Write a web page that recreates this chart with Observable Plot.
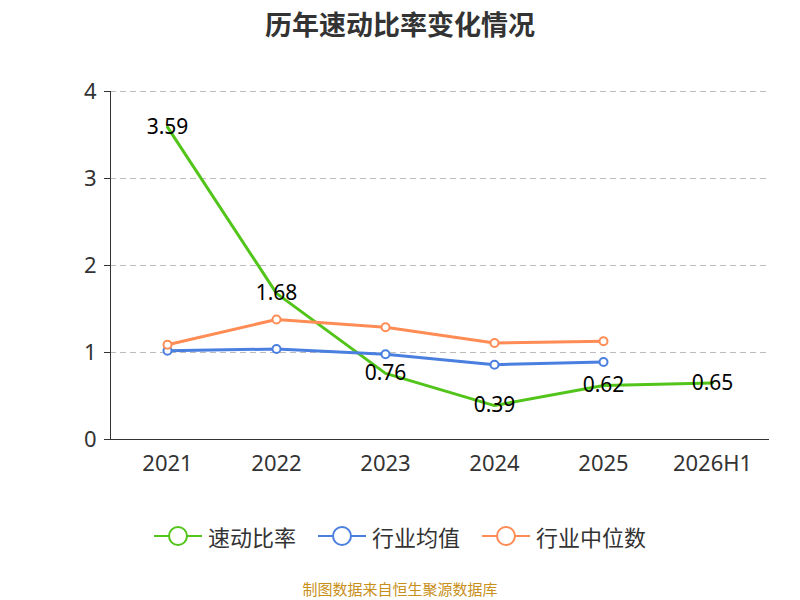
<!DOCTYPE html>
<html><head><meta charset="utf-8">
<script src="https://cdn.jsdelivr.net/npm/d3@7"></script>
<script src="https://cdn.jsdelivr.net/npm/@observablehq/plot@0.6"></script>
<style>
body{margin:0;width:800px;height:600px;position:relative;font-family:"Noto Sans CJK SC","Noto Sans",sans-serif;background:#fff}
#title{position:absolute;top:4px;width:800px;text-align:center;font-size:27px;font-weight:bold;color:#333}
#chart{position:absolute;top:0;left:0}
#legend{position:absolute;top:520px;width:800px;display:flex;justify-content:center;gap:22px;font-size:22px;color:#333}
#legend span{display:flex;align-items:center;gap:6px}
#caption{position:absolute;top:578px;width:800px;text-align:center;font-size:15px;color:#c8901a}
</style></head><body>
<div id="chart"></div>
<div id="title">历年速动比率变化情况</div>
<div id="legend"></div>
<div id="caption">制图数据来自恒生聚源数据库</div>
<script>
const years = ["2021","2022","2023","2024","2025","2026H1"];
const quick = [3.59,1.68,0.76,0.39,0.62,0.65];
const avg = [1.02,1.04,0.98,0.86,0.89];
const median = [1.09,1.38,1.29,1.11,1.13];
const names = ["速动比率","行业均值","行业中位数"];
const colors = ["#52c41a","#4a7fe0","#ff8c55"];

const rows = [];
quick.forEach((v,i)=>rows.push({x:years[i],y:v,s:names[0]}));
avg.forEach((v,i)=>rows.push({x:years[i],y:v,s:names[1]}));
median.forEach((v,i)=>rows.push({x:years[i],y:v,s:names[2]}));
const qrows = rows.filter(d=>d.s===names[0]);

const plot = Plot.plot({
  width:800,height:500,marginTop:91,marginBottom:61,marginLeft:110,marginRight:32,
  style:{fontSize:"22px",fontFamily:"Noto Sans, sans-serif",color:"#333"},
  x:{type:"point",domain:years,padding:0.5,label:null,tickSize:0,tickPadding:16},
  y:{domain:[0,4],ticks:[0,1,2,3,4],tickFormat:d3.format("d"),label:null,tickSize:6,tickPadding:8},
  color:{domain:names,range:colors},
  marks:[
    Plot.gridY([1,2,3,4],{stroke:"#bbb",strokeDasharray:"6,4",strokeOpacity:1}),
    Plot.frame({anchor:"left",stroke:"#333"}),
    Plot.frame({anchor:"bottom",stroke:"#333"}),
    Plot.line(rows,{x:"x",y:"y",z:"s",stroke:"s",strokeWidth:3}),
    Plot.dot(rows.filter(d=>d.s!==names[0]),{x:"x",y:"y",stroke:"s",fill:"white",r:4,strokeWidth:2}),
    Plot.text(qrows,{x:"x",y:"y",text:d=>d.y.toFixed(2),fill:"black",fontSize:21})
  ]
});
document.getElementById("chart").appendChild(plot);

const lg=document.getElementById("legend");
names.forEach((n,i)=>{
  const s=document.createElement("span");
  s.innerHTML=`<svg width="48" height="24"><line x1="0" y1="12" x2="48" y2="12" stroke="${colors[i]}" stroke-width="2"/><circle cx="24" cy="12" r="9" fill="white" stroke="${colors[i]}" stroke-width="2"/></svg>${n}`;
  lg.appendChild(s);
});
</script>
</body></html>
